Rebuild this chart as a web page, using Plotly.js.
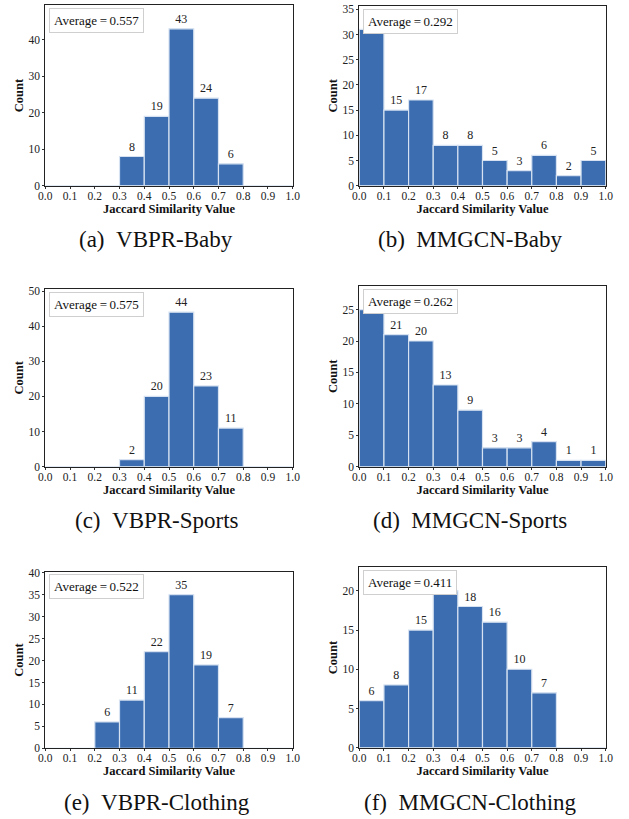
<!DOCTYPE html>
<html>
<head>
<meta charset="utf-8">
<script src="https://cdn.plot.ly/plotly-3.0.1.min.js"></script>
<style>html,body{margin:0;padding:0;background:#fff;}#chart{width:629px;height:819px;}</style>
</head>
<body>
<div id="chart"></div>
<script>
// Bin centres (bins of width 0.1 from 0.0 to 1.0)
const binCenters = [0.05, 0.15, 0.25, 0.35, 0.45, 0.55, 0.65, 0.75, 0.85, 0.95];
const xTickVals = [0.0, 0.1, 0.2, 0.3, 0.4, 0.5, 0.6, 0.7, 0.8, 0.9, 1.0];
const xTickText = ["0.0","0.1","0.2","0.3","0.4","0.5","0.6","0.7","0.8","0.9","1.0"];

const vbprBaby      = [0, 0, 0, 8, 19, 43, 24, 6, 0, 0];
const mmgcnBaby     = [31, 15, 17, 8, 8, 5, 3, 6, 2, 5];
const vbprSports    = [0, 0, 0, 2, 20, 44, 23, 11, 0, 0];
const mmgcnSports   = [25, 21, 20, 13, 9, 3, 3, 4, 1, 1];
const vbprClothing  = [0, 0, 6, 11, 22, 35, 19, 7, 0, 0];
const mmgcnClothing = [6, 8, 15, 20, 18, 16, 10, 7, 0, 0];

const averages = ["0.557", "0.292", "0.575", "0.262", "0.522", "0.411"];
const captions = ["(a)\u00a0\u00a0VBPR-Baby", "(b)\u00a0\u00a0MMGCN-Baby", "(c)\u00a0\u00a0VBPR-Sports",
                  "(d)\u00a0\u00a0MMGCN-Sports", "(e)\u00a0\u00a0VBPR-Clothing", "(f)\u00a0\u00a0MMGCN-Clothing"];
const yTickSteps = [10, 5, 10, 5, 5, 5];
// bin whose count label is covered by the "Average" box in the reference (-1 = none)
const coveredLabelBin = [-1, 0, -1, 0, -1, 3];

const series = [vbprBaby, mmgcnBaby, vbprSports, mmgcnSports, vbprClothing, mmgcnClothing];

// layout geometry (pixels in the 629x819 page)
const W = 629, H = 819;
const panels = [
  {l: 45.3, r: 292.7, t: 5.3,   b: 185.7, cx: 156, cy: 239},
  {l: 359.3, r: 605.7, t: 6,    b: 185.7, cx: 470, cy: 239},
  {l: 45.3, r: 292.7, t: 289,   b: 466.7, cx: 156.5, cy: 520},
  {l: 359.3, r: 605.7, t: 286,  b: 466.7, cx: 470, cy: 520},
  {l: 45.3, r: 292.7, t: 571.7, b: 748.3, cx: 157, cy: 802},
  {l: 359.3, r: 605.7, t: 567.3, b: 747.7, cx: 470, cy: 802}
];

const FONT = "Liberation Serif";
const barColor = "#3b6db0";
const edgeColor = "#d6e2f1";

const traces = [];
const layout = {
  width: W, height: H,
  margin: {l: 0, r: 0, t: 0, b: 0},
  paper_bgcolor: "#ffffff",
  plot_bgcolor: "#ffffff",
  showlegend: false,
  bargap: 0,
  font: {family: FONT, color: "#111"},
  annotations: []
};

series.forEach((vals, i) => {
  const n = i + 1;
  const xa = n === 1 ? "x" : "x" + n;
  const ya = n === 1 ? "y" : "y" + n;
  const p = panels[i];
  traces.push({
    type: "bar",
    x: binCenters,
    y: vals,
    width: 0.1,
    xaxis: xa, yaxis: ya,
    marker: {color: barColor, line: {color: edgeColor, width: 1.2}},
    text: vals.map((v, k) => (v > 0 && k !== coveredLabelBin[i]) ? String(v) : ""),
    textposition: "outside",
    textfont: {family: FONT, size: 12, color: "#222"},
    constraintext: "none",
    cliponaxis: false,
    hoverinfo: "x+y"
  });
  const ymax = Math.max(...vals) * 1.15;
  const ax = {
    domain: [p.l / W, p.r / W],
    range: [0, 1],
    anchor: ya,
    tickvals: xTickVals,
    ticktext: xTickText,
    ticks: "outside", ticklen: 2, tickwidth: 1, tickcolor: "#333",
    ticklabelstandoff: -3,
    tickfont: {family: FONT, size: 11.5, color: "#222"},
    showgrid: false, zeroline: false,
    showline: true, mirror: true, linecolor: "#222", linewidth: 1,
    automargin: false,
    title: {text: "<b>Jaccard Similarity Value</b>", font: {family: FONT, size: 12.5, color: "#111"}, standoff: 3}
  };
  const ay = {
    domain: [1 - p.b / H, 1 - p.t / H],
    range: [0, ymax],
    anchor: xa,
    dtick: yTickSteps[i], tick0: 0,
    ticks: "outside", ticklen: 2, tickwidth: 1, tickcolor: "#333",
    tickfont: {family: FONT, size: 11.5, color: "#222"},
    showgrid: false, zeroline: false,
    showline: true, mirror: true, linecolor: "#222", linewidth: 1,
    automargin: false,
    title: {text: "<b>Count</b>", font: {family: FONT, size: 12.5, color: "#111"}, standoff: 2}
  };
  layout["xaxis" + (n === 1 ? "" : n)] = ax;
  layout["yaxis" + (n === 1 ? "" : n)] = ay;

  layout.annotations.push({
    xref: xa + " domain", yref: ya + " domain",
    x: 0.015, y: 0.985, xanchor: "left", yanchor: "top",
    text: "Average\u2009=\u2009" + averages[i],
    showarrow: false,
    font: {family: FONT, size: 13, color: "#111"},
    bgcolor: "#ffffff", bordercolor: "#cfcfcf", borderwidth: 1, borderpad: 4
  });
  layout.annotations.push({
    xref: "paper", yref: "paper",
    x: p.cx / W, y: 1 - p.cy / H,
    xanchor: "center", yanchor: "middle",
    text: captions[i], showarrow: false,
    font: {family: FONT, size: 23, color: "#111"}
  });
});

Plotly.newPlot("chart", traces, layout, {staticPlot: true});
</script>
</body>
</html>
